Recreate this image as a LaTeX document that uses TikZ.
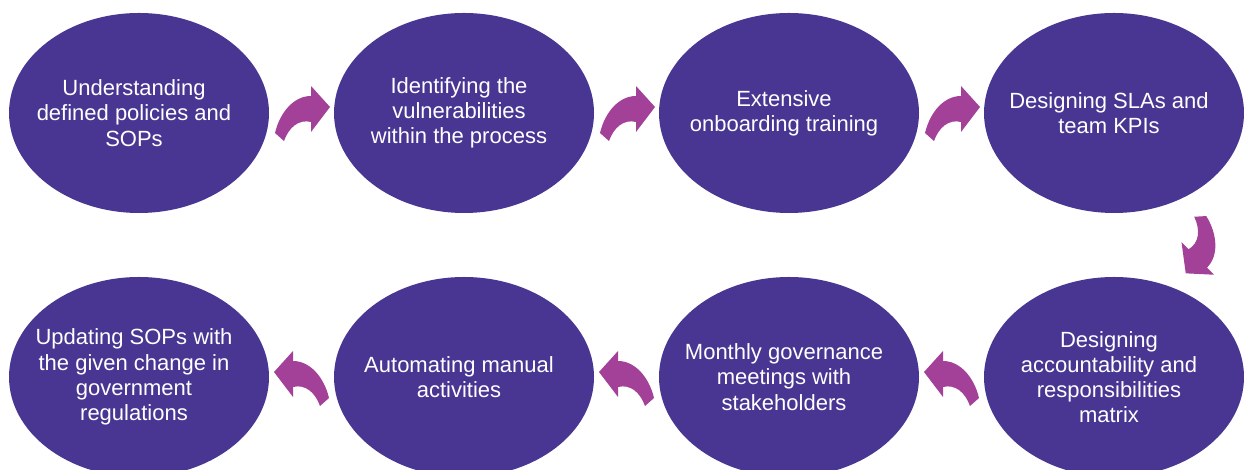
\documentclass[tikz,border=0pt]{standalone}
\usepackage{fontspec}
\setmainfont{Liberation Sans}
\usetikzlibrary{shapes.geometric}
\definecolor{blobcol}{RGB}{72,54,146}
\definecolor{arrcol}{RGB}{163,64,152}
\tikzset{
  blob/.style={ellipse, fill=blobcol, draw=none, inner sep=0pt, minimum width=195pt, minimum height=150pt},
  lbl/.style={text=white, align=center, inner sep=0pt, xshift=-3.75pt, font=\fontsize{16.5}{18.9}\selectfont},
  curvarr/.pic={
    \fill[arrcol] (-27,-21) .. controls (-22,0) and (-8,16) .. (9,16) -- (9,26) -- (28,5) -- (9,-20) -- (9,-10)
      .. controls (-3,-7) and (-13,-15) .. (-18,-29) -- cycle;
  }
}
\begin{document}
\begin{tikzpicture}[x=0.75pt,y=0.75pt]
\useasboundingbox (0,0) rectangle (1244,470);
% top row
\node[blob] (e1) at (139,357) {};
\node[blob] (e2) at (464,357) {};
\node[blob] (e3) at (789,357) {};
\node[blob] (e4) at (1114,357) {};
% bottom row
\node[blob] (e5) at (1114,93) {};
\node[blob] (e6) at (789,93) {};
\node[blob] (e7) at (464,93) {};
\node[blob] (e8) at (139,93) {};
% labels
\node[lbl] (t1) at (e1) {Understanding\\defined policies and\\SOPs};
\node[lbl] (t2) at (e2) {Identifying the\\vulnerabilities\\within the process};
\node[lbl] (t3) at (e3) {Extensive\\onboarding training};
\node[lbl] (t4) at (e4) {Designing SLAs and\\team KPIs};
\node[lbl] (t5) at (e5) {Designing\\accountability and\\responsibilities\\matrix};
\node[lbl] (t6) at (e6) {Monthly governance\\meetings with\\stakeholders};
\node[lbl] (t7) at (e7) {Automating manual\\activities};
\node[lbl] (t8) at (e8) {Updating SOPs with\\the given change in\\government\\regulations};
% arrows
\pic at (302,358) {curvarr};
\pic at (627,358) {curvarr};
\pic at (952,358) {curvarr};
\pic[rotate=-135] at (1202,220) {curvarr};
\pic[xscale=-1] at (952,93) {curvarr};
\pic[xscale=-1] at (627,93) {curvarr};
\pic[xscale=-1] at (302,93) {curvarr};
\end{tikzpicture}
\end{document}
